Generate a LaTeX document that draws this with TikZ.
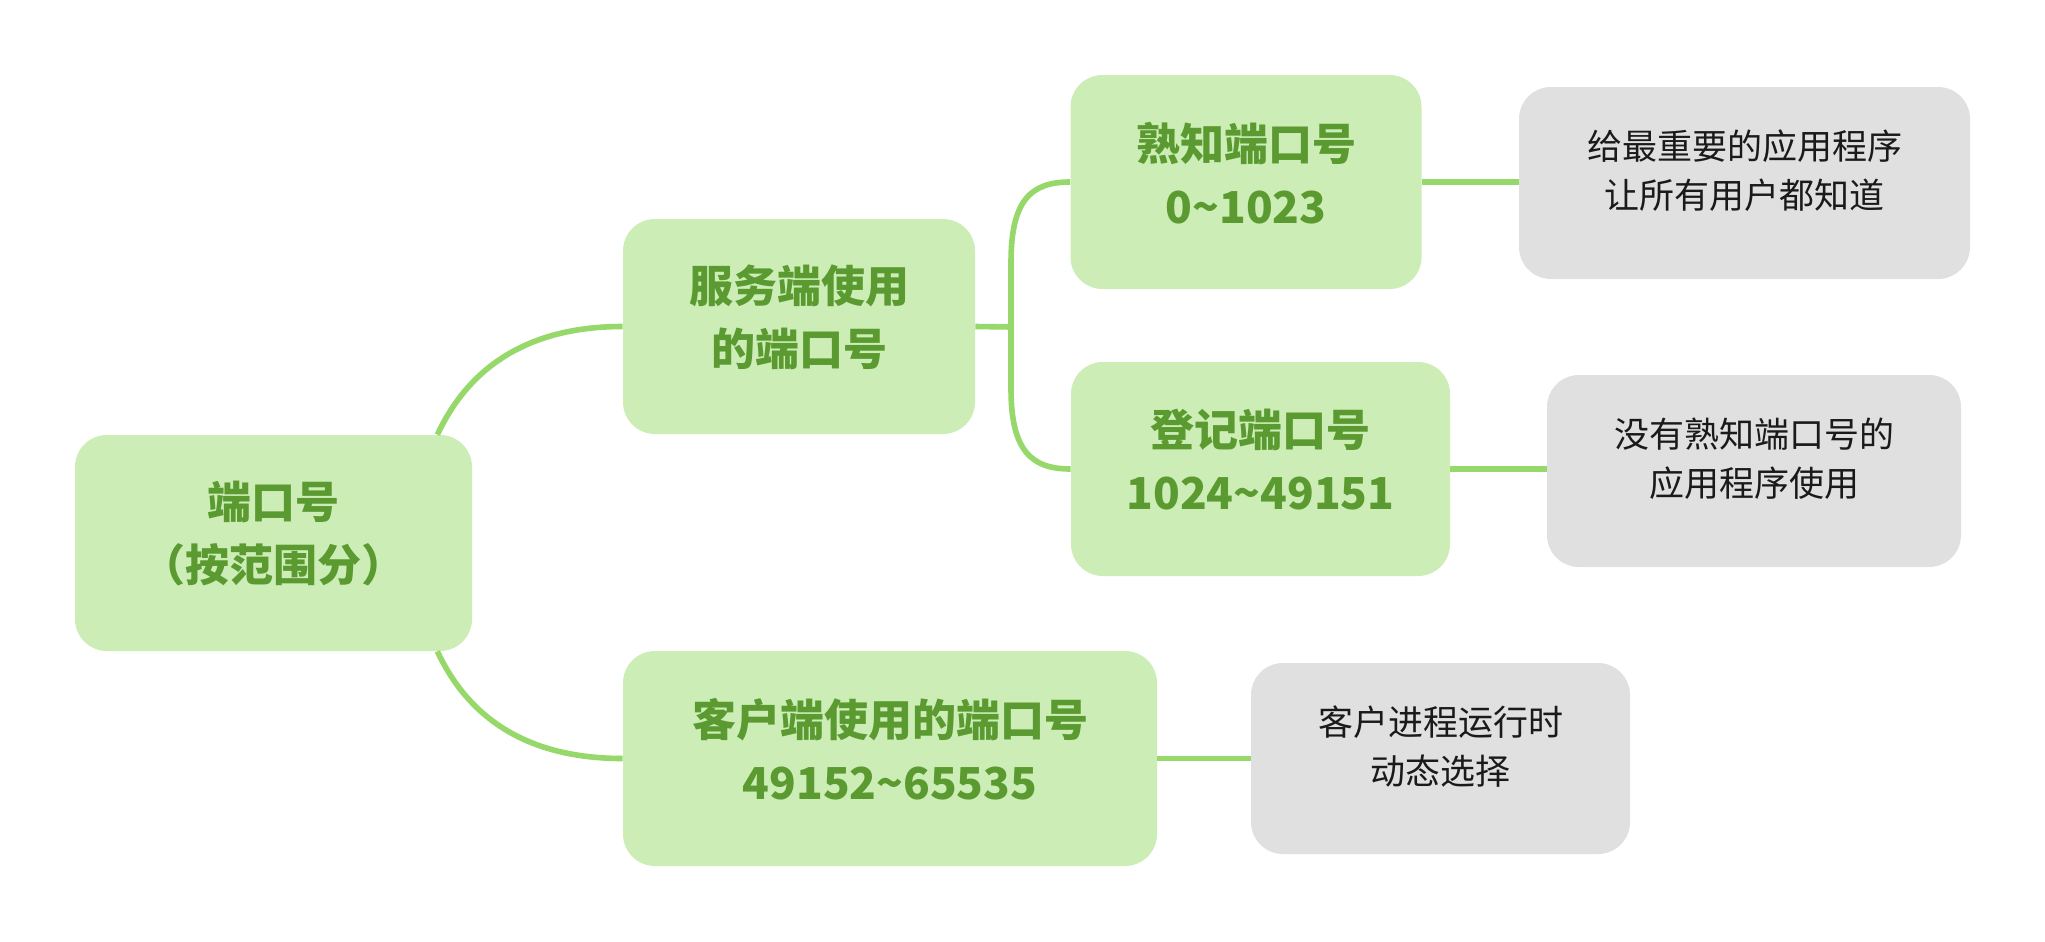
\documentclass[tikz,border=0pt]{standalone}
\usepackage{fontspec}
\setmainfont{Noto Sans CJK SC}
\usetikzlibrary{calc}
\definecolor{boxgreen}{HTML}{CCEDB6}
\definecolor{txtgreen}{HTML}{5A9A30}
\definecolor{linegreen}{HTML}{96D96A}
\definecolor{boxgray}{HTML}{E0E0E0}
\definecolor{txtgray}{HTML}{1A1A1A}
\begin{document}
\begin{tikzpicture}[x=0.5pt,y=-0.5pt,
  greenbox/.style={rectangle, rounded corners=16pt, fill=boxgreen, draw=none, inner sep=0pt},
  greentext/.style={text=txtgreen, align=center, inner sep=0pt,
    font=\fontsize{22pt}{31.5pt}\selectfont\bfseries},
  graybox/.style={rectangle, rounded corners=16pt, fill=boxgray, draw=none, inner sep=0pt},
  graytext/.style={text=txtgray, align=center, inner sep=0pt,
    font=\fontsize{17.5pt}{24.5pt}\selectfont},
  conn/.style={draw=linegreen, line width=2.8pt}]
\useasboundingbox (0,0) rectangle (2045,942);
\fill[white] (0,0) rectangle (2045,942);

\node[greenbox, minimum width=198.5pt, minimum height=108pt] (root) at (273.5,543) {};
\node[greenbox, minimum width=176pt, minimum height=107.5pt] (server) at (799,326.5) {};
\node[greenbox, minimum width=175.5pt, minimum height=107pt] (wk) at (1246,182) {};
\node[greenbox, minimum width=189.5pt, minimum height=107pt] (reg) at (1260.5,469) {};
\node[greenbox, minimum width=267pt, minimum height=107.5pt] (client) at (890,758.5) {};

\node[graybox, minimum width=225.5pt, minimum height=96pt] (g1) at (1744.5,183) {};
\node[graybox, minimum width=207pt, minimum height=96pt] (g2) at (1754,471) {};
\node[graybox, minimum width=189.5pt, minimum height=95.5pt] (g3) at (1440.5,758.5) {};

\node[greentext] (rootT) at ([yshift=4.5pt]root.center) {端口号\\（按范围分）};
\node[greentext] (serverT) at ([yshift=4.5pt]server.center) {服务端使用\\的端口号};
\node[greentext] (wkT) at ([yshift=4.5pt]wk.center) {熟知端口号\\0\textasciitilde 1023};
\node[greentext] (regT) at ([yshift=4.5pt]reg.center) {登记端口号\\1024\textasciitilde 49151};
\node[greentext] (clientT) at ([yshift=4.5pt]client.center) {客户端使用的端口号\\49152\textasciitilde 65535};
\node[graytext] (g1T) at ([yshift=6pt]g1.center) {给最重要的应用程序\\让所有用户都知道};
\node[graytext] (g2T) at ([yshift=6pt]g2.center) {没有熟知端口号的\\应用程序使用};
\node[graytext] (g3T) at ([yshift=6pt]g3.center) {客户进程运行时\\动态选择};

\coordinate (j) at (1011,327);
\draw[conn] ([xshift=-17.5pt]root.north east) .. controls +(28,-60) and +(-103,0) .. (server.west);
\draw[conn] ([xshift=-17.5pt]root.south east) .. controls +(28,60) and +(-103,0) .. (client.west);
\draw[conn] (server.east) -- (j);
\draw[conn] (j) -- ++(0,-65) .. controls +(0,-62) and +(-39,0) .. (wk.west);
\draw[conn] (j) -- ++(0,62) .. controls +(0,62) and +(-39,0) .. (reg.west);
\draw[conn] (wk.east) -- (wk.east -| g1.west);
\draw[conn] (reg.east) -- (reg.east -| g2.west);
\draw[conn] (client.east) -- (client.east -| g3.west);
\end{tikzpicture}
\end{document}
